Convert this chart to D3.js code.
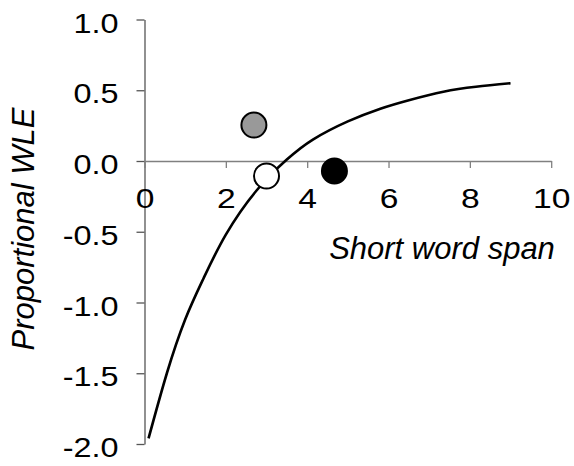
<!DOCTYPE html>
<html>
<head>
<meta charset="utf-8">
<script src="https://cdn.jsdelivr.net/npm/d3@7"></script>
<style>
  body { margin: 0; background: #fff; }
  text { font-family: "Liberation Sans", Arial, Helvetica, sans-serif; fill: #000; }
</style>
</head>
<body>
<svg id="chart" width="574" height="466"></svg>
<script>
// values
const xTicks = [0, 2, 4, 6, 8, 10];
const yTicks = [-2.0, -1.5, -1.0, -0.5, 0.0, 0.5, 1.0];

// fitted curve
const curveX = [0.1, 0.55, 1.0, 1.45, 2.0, 2.75, 3.5, 4.15, 5.0, 5.8, 6.5, 7.35, 8.15, 9.0];
const curveY = [-1.96, -1.5, -1.12, -0.83, -0.52, -0.21, 0.01, 0.153, 0.28, 0.37, 0.43, 0.49, 0.525, 0.55];

// the three group means
const groupX = [2.69, 3.0, 4.67];
const groupY = [0.254, -0.106, -0.071];
const groupFill = ["#999999", "#ffffff", "#000000"];

const svg = d3.select("#chart");

const x = d3.scaleLinear().domain([0, 10]).range([144.5, 551.2]);
const y = d3.scaleLinear().domain([-2, 1]).range([444, 19.5]);

// y axis
const yAxis = svg.append("g")
    .attr("transform", `translate(${x(0)},0)`)
    .call(d3.axisLeft(y).tickValues(yTicks).tickSize(8).tickSizeOuter(0)
        .tickFormat(d => d.toFixed(1)));
yAxis.select(".domain").attr("stroke", "#555").attr("stroke-width", 1.3);
yAxis.selectAll(".tick line").attr("stroke", "#555").attr("stroke-width", 1.3);
yAxis.selectAll(".tick text")
    .attr("x", 0).attr("dy", 0).attr("y", 0)
    .attr("transform", "translate(-26,12.5) scale(1.2,1)")
    .style("font-size", "27px")
    .attr("fill", "#000");

// x axis crossing at y = 0
const xAxis = svg.append("g")
    .attr("transform", `translate(0,${y(0)})`)
    .call(d3.axisBottom(x).tickValues(xTicks).tickSize(7).tickSizeOuter(0)
        .tickFormat(d3.format("d")));
xAxis.select(".domain").attr("stroke", "#808080").attr("stroke-width", 1.3);
xAxis.selectAll(".tick line").attr("stroke", "#808080").attr("stroke-width", 1.3);
xAxis.selectAll(".tick text")
    .attr("y", 0).attr("dy", 0)
    .attr("transform", "translate(0,47) scale(1.2,1)")
    .style("font-size", "28px")
    .attr("fill", "#000");

// curve
const pts = curveX.map((d, i) => [d, curveY[i]]);
svg.append("path")
    .datum(pts)
    .attr("fill", "none")
    .attr("stroke", "#000")
    .attr("stroke-width", 2.6)
    .attr("d", d3.line().x(d => x(d[0])).y(d => y(d[1])).curve(d3.curveNatural));

// group points
svg.append("g")
    .selectAll("circle")
    .data(groupX)
    .enter()
    .append("circle")
    .attr("cx", d => x(d))
    .attr("cy", (d, i) => y(groupY[i]))
    .attr("r", 12.5)
    .attr("fill", (d, i) => groupFill[i])
    .attr("stroke", "#000")
    .attr("stroke-width", 2);

// axis titles
svg.append("text")
    .attr("x", 442)
    .attr("y", 259)
    .attr("text-anchor", "middle")
    .style("font-size", "31px")
    .style("font-style", "italic")
    .text("Short word span");

svg.append("text")
    .attr("transform", "translate(34,229) rotate(-90)")
    .attr("text-anchor", "middle")
    .style("font-size", "31px")
    .style("font-style", "italic")
    .text("Proportional WLE");
</script>
</body>
</html>
